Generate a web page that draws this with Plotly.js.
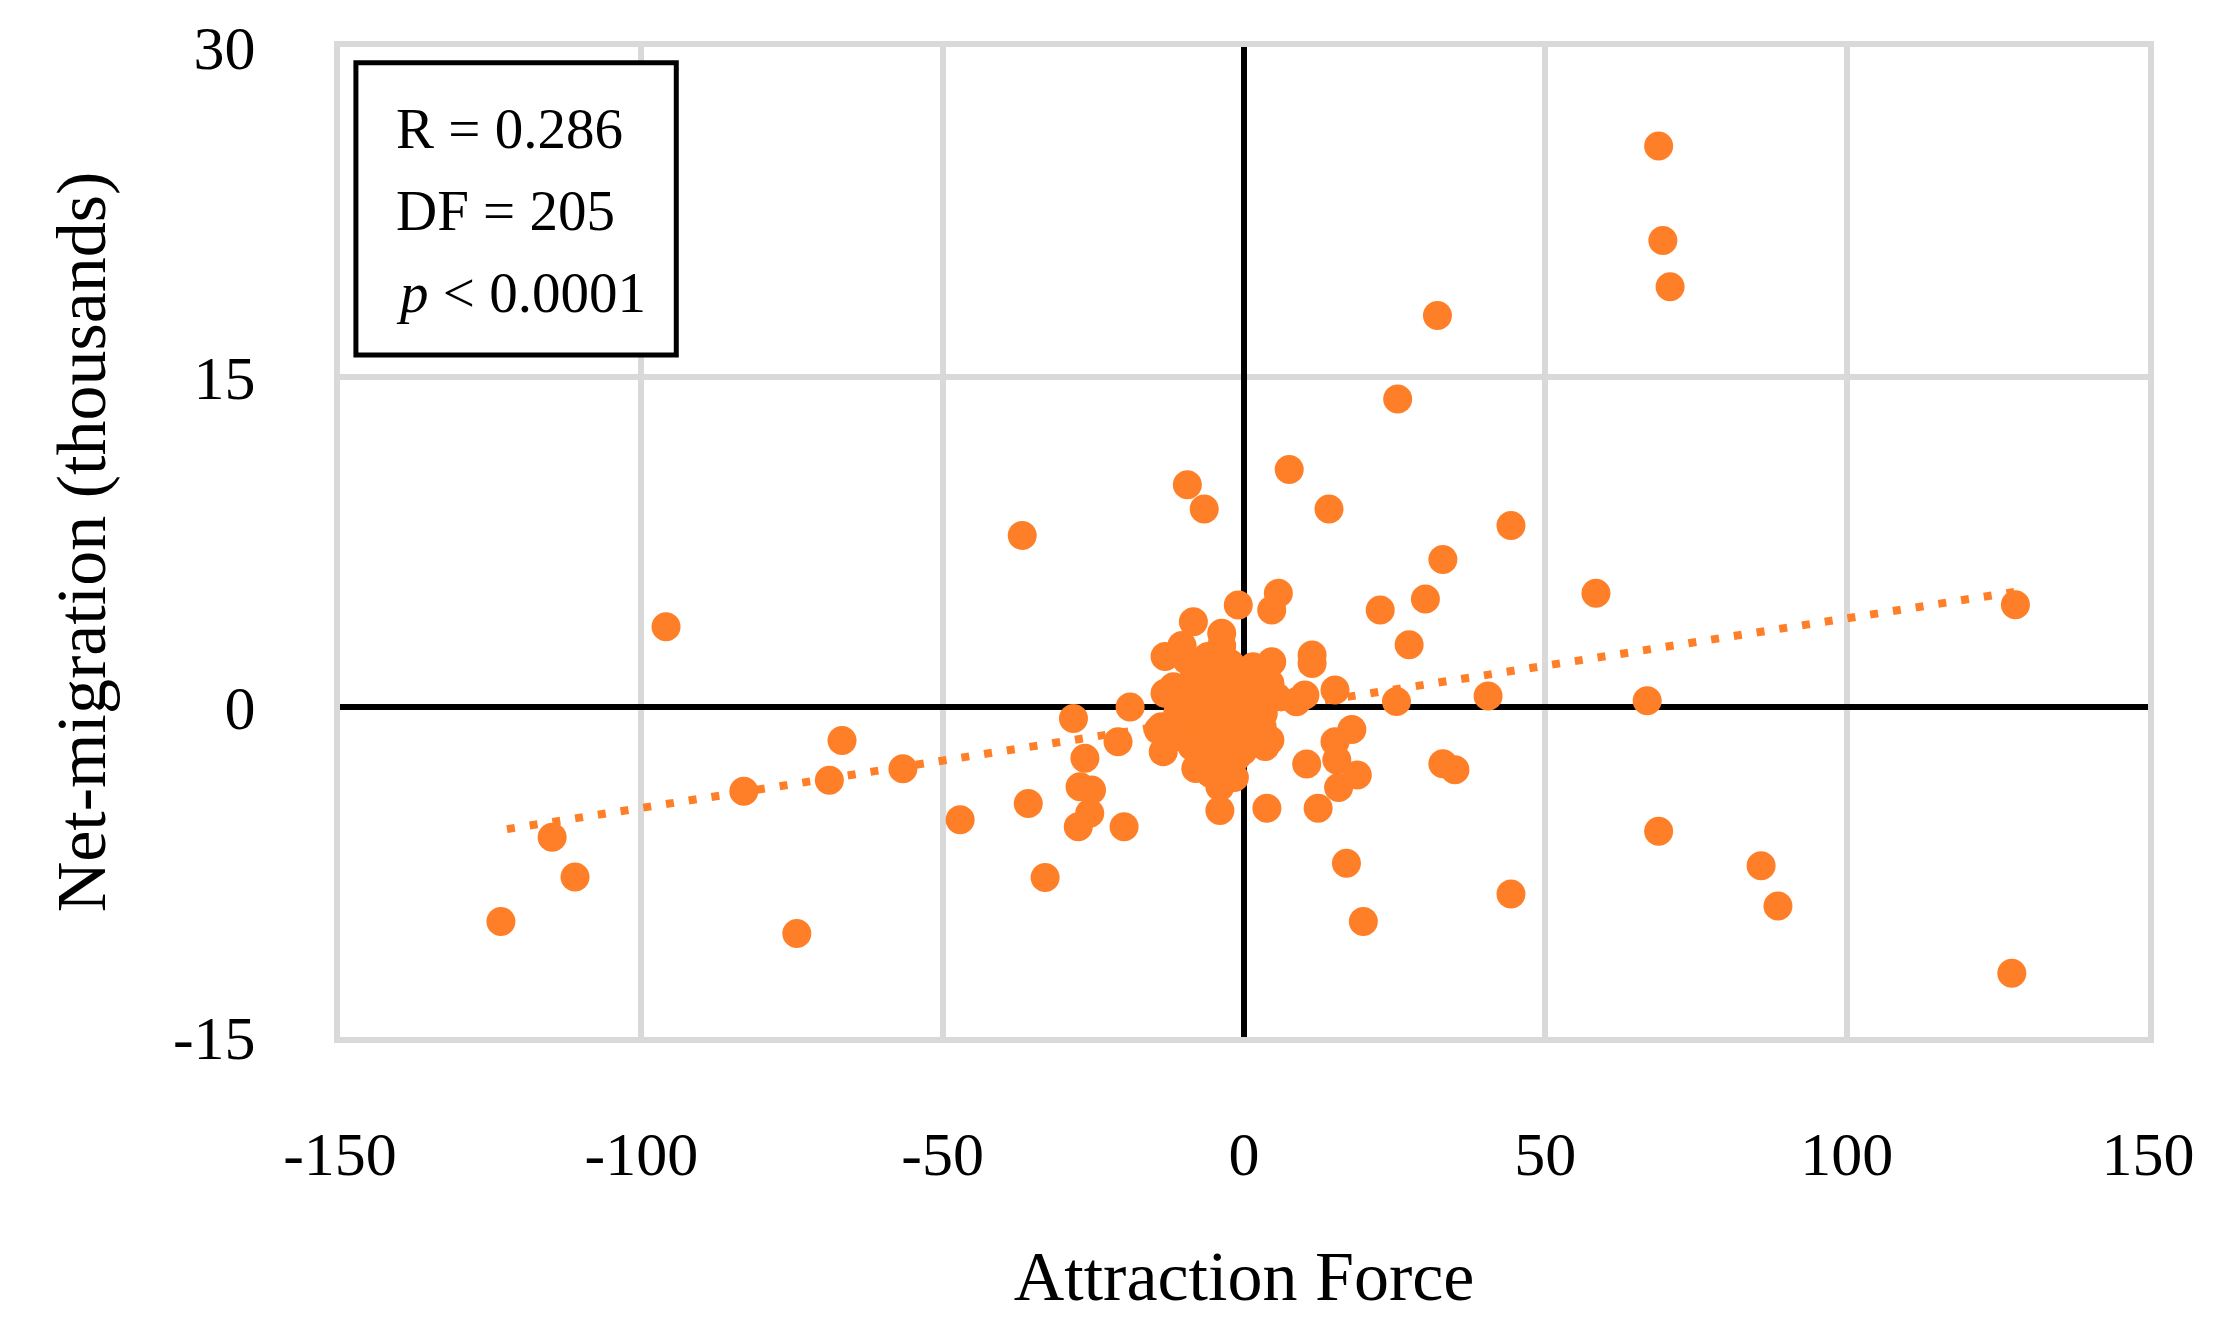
<!DOCTYPE html>
<html>
<head>
<meta charset="utf-8">
<script src="https://cdn.plot.ly/plotly-3.0.1.min.js"></script>
<style>
  html, body { margin: 0; padding: 0; background: #ffffff; }
  #chart { width: 2233px; height: 1339px; }
</style>
</head>
<body>
<div id="chart"></div>
<script>
// attraction force (x) vs net-migration in thousands (y)
const attraction = [
  68.8, 69.5, 70.7, 32.1, 25.5, 7.5, -9.4, -6.6, 14.1, -36.8,
  44.3, 33.0, 58.4, 5.7, 30.1, 4.6, 22.6, -0.95, -95.9, 128.0,
  27.4, -8.4, -3.7, -3.7, -10.3, -13.1, -9.5, 4.6, 11.3, 11.3,
  40.5, 25.3, 66.9, 15.1, 10.1, 8.7, -18.9, -28.3, -66.7, 17.9,
  15.1, -20.9, -26.4, 10.4, 33.0, 35.0, 15.4, -56.6, 18.8, -68.8,
  -83.0, -27.2, -25.3, 15.7, -35.8, 12.3, 3.8, -4.0, -25.6, -47.1,
  -27.5, -19.9, -114.8, 68.8, 17.0, 85.8, -111.0, -33.0, 44.3, 88.6,
  -123.3, 19.8, -74.2, 127.4,
  -6.2, -2.3, 1.5, 4.3, 5.4, -2.3, -7.8, -11.2, -5.1, 0.4,
  3.2, -9.0, -3.4, 2.1, 4.3, -10.6, -6.2, -2.3, -5.1, -1.2,
  -5.6, -2.3, -4.0, 3.5, -11.7, -0.7, 2.1, -13.1, -13.7, -13.4,
  -14.2, -10.3, -3.8,
  -1.0, 1.0, -4.2, -7.0, 0.2, -8.2, 2.4, -1.2, -3.0, 0.6,
  -6.0, -4.4, -8.6, -0.4, 1.8, -2.8, -6.8, -9.8, -1.6, 0.0,
  -4.8, -7.4, 3.0, -0.2, -3.2, -5.8, -11.0, -8.0
];
const netMigration = [
  25.5, 21.2, 19.1, 17.8, 14.0, 10.8, 10.1, 9.0, 9.0, 7.8,
  8.25, 6.7, 5.17, 5.17, 4.91, 4.41, 4.41, 4.64, 3.65, 4.65,
  2.83, 3.88, 3.35, 2.78, 2.8, 2.29, 2.14, 2.06, 2.36, 1.98,
  0.5, 0.25, 0.28, 0.77, 0.55, 0.24, 0.0, -0.52, -1.52, -1.02,
  -1.58, -1.58, -2.33, -2.59, -2.58, -2.85, -2.41, -2.81, -3.09, -3.33,
  -3.83, -3.62, -3.77, -3.66, -4.39, -4.6, -4.6, -4.7, -4.83, -5.12,
  -5.44, -5.44, -5.92, -5.65, -7.1, -7.22, -7.73, -7.75, -8.5, -9.05,
  -9.75, -9.75, -10.3, -12.1,
  1.68, 1.98, 1.83, 1.08, 0.47, 0.92, 0.62, 0.32, 0.0, 0.0,
  -0.29, -0.59, -0.59, -0.9, -1.5, -1.35, -1.5, -1.8, -2.41, -2.26,
  -3.01, -3.01, -3.62, -1.8, 0.92, 1.38, 0.62, 0.62, -0.9, -2.03,
  -1.05, 2.74, -3.36,
  0.5, -0.5, 1.0, -0.4, -1.4, 1.5, 0.3, -1.0, -2.4, 1.1,
  2.3, -1.2, -1.8, 0.8, -1.4, 0.4, -2.6, -0.1, -3.2, 1.6,
  -2.0, 0.2, -0.9, -2.0, -0.2, 0.4, -0.3, -2.8
];

// linear trend end points
const trendX = [-122.3, 127.8];
const trendY = [-5.55, 5.23];

const xTicks = [-150, -100, -50, 0, 50, 100, 150];
const yTicks = [-15, 0, 15, 30];
const statLines = ['R = 0.286', 'DF = 205', '<i>p</i> < 0.0001'];

const serif = 'Liberation Serif, DejaVu Serif, serif';
const orange = '#FE7F27';

const traces = [
  {
    x: attraction, y: netMigration, type: 'scatter', mode: 'markers',
    marker: { color: orange, size: 29, line: { width: 0 } },
    hoverinfo: 'x+y'
  },
  {
    x: trendX, y: trendY, type: 'scatter', mode: 'lines',
    line: { color: orange, width: 8, dash: '8px,15px' },
    hoverinfo: 'skip'
  }
];

const statY = [0.918, 0.835, 0.752];
const annotations = statLines.map((t, i) => ({
  xref: 'paper', yref: 'paper', x: 0.030, y: statY[i],
  xanchor: 'left', yanchor: 'middle', showarrow: false, text: t,
  font: { family: serif, size: 57, color: '#000000' }
}));

const layout = {
  width: 2233, height: 1339,
  paper_bgcolor: '#ffffff', plot_bgcolor: '#ffffff',
  margin: { l: 340, r: 85, t: 47, b: 302 },
  showlegend: false,
  font: { family: serif, color: '#000000' },
  xaxis: {
    range: [-150, 150], tickvals: xTicks, ticktext: xTicks.map(String),
    showgrid: true, gridcolor: '#D9D9D9', gridwidth: 6,
    zeroline: true, zerolinecolor: '#000000', zerolinewidth: 6,
    showline: true, mirror: true, linecolor: '#D9D9D9', linewidth: 6,
    ticks: '', ticklabelstandoff: 58,
    tickfont: { family: serif, size: 62, color: '#000000' },
    title: { text: 'Attraction Force', standoff: 66, font: { family: serif, size: 70, color: '#000000' } }
  },
  yaxis: {
    range: [-15, 30], tickvals: yTicks, ticktext: yTicks.map(String),
    showgrid: true, gridcolor: '#D9D9D9', gridwidth: 6,
    zeroline: true, zerolinecolor: '#000000', zerolinewidth: 6,
    showline: true, mirror: true, linecolor: '#D9D9D9', linewidth: 6,
    ticks: '', ticklabelstandoff: 66,
    tickfont: { family: serif, size: 62, color: '#000000' },
    title: { text: 'Net-migration (thousands)', standoff: 46, font: { family: serif, size: 70, color: '#000000' } }
  },
  shapes: [
    {
      type: 'rect', xref: 'paper', yref: 'paper',
      x0: 0.0088, x1: 0.186, y0: 0.689, y1: 0.984,
      line: { color: '#000000', width: 5 }, fillcolor: '#ffffff', layer: 'above'
    }
  ],
  annotations: annotations
};

Plotly.newPlot('chart', traces, layout, { displayModeBar: false, staticPlot: true });
</script>
</body>
</html>
